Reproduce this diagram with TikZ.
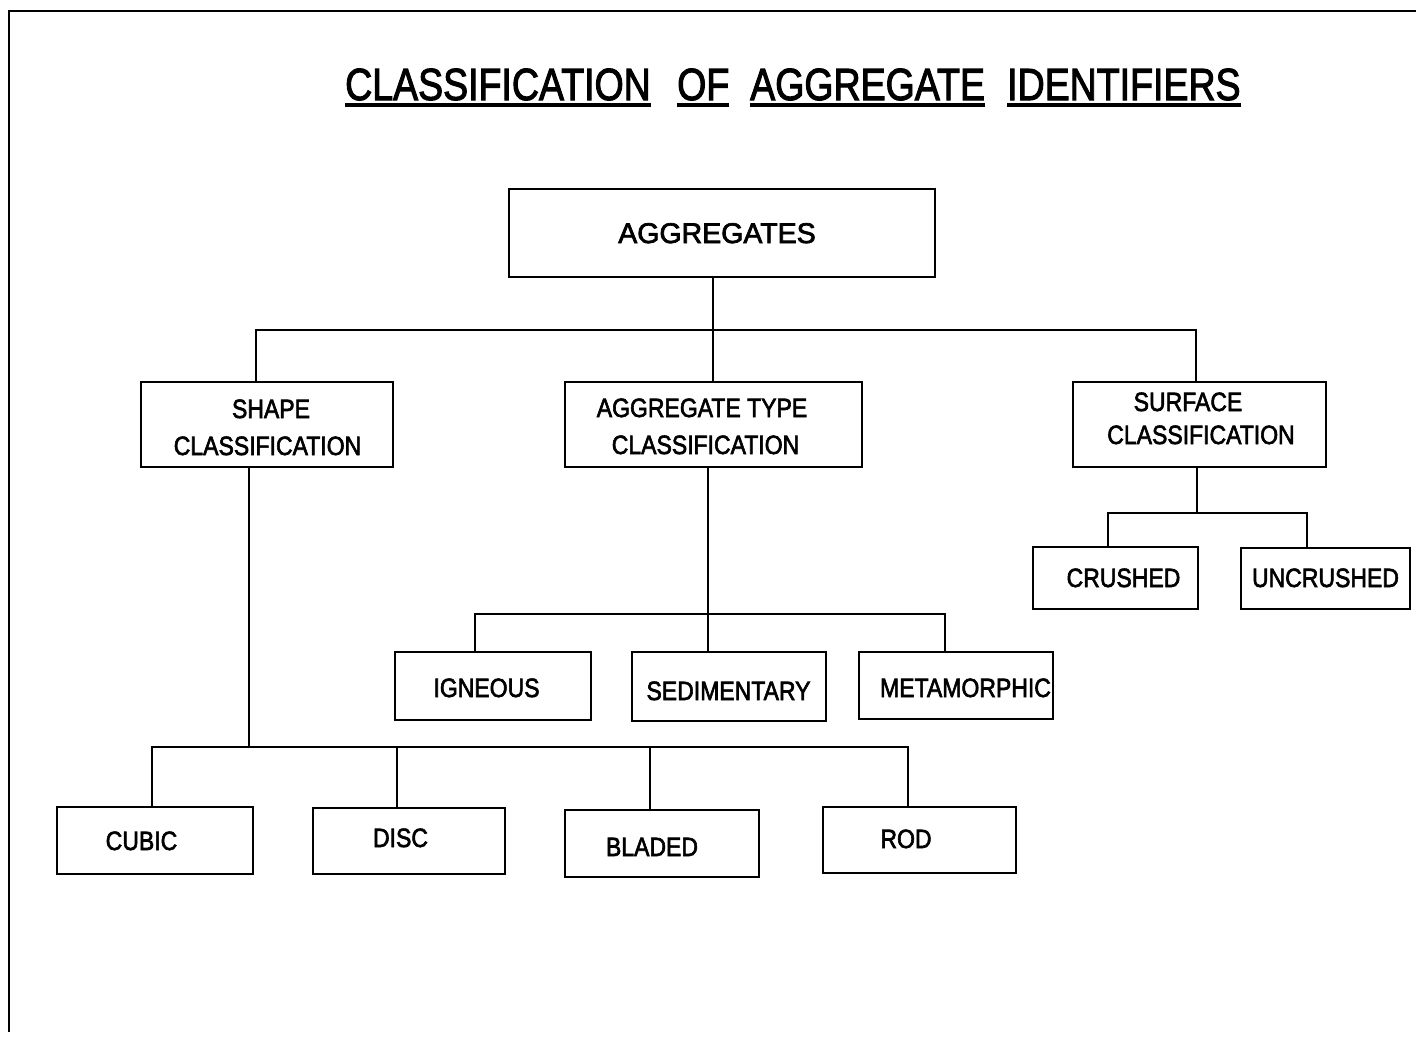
\documentclass[tikz,border=0pt]{standalone}
\usepackage{fontspec}
\setmainfont{Liberation Sans}
% a little heavier than the regular cut, like typewriter-style lettering
\newfontfamily\chartfont{Liberation Sans}[FakeBold=2.5]
\usepackage{graphicx}
% slightly tall lettering, as on the typed chart
\newcommand\tallbox[1]{\scalebox{1}[1.15]{#1}}
\newcommand\talltitle[1]{\scalebox{1}[1.2]{#1}}
\begin{document}
\begin{tikzpicture}[x=1pt,y=-1pt,
  box/.style={draw, line width=2.6pt, inner sep=0pt, outer sep=0pt, anchor=north west},
  lbl/.style={inner sep=0pt, anchor=base, font=\chartfont\fontsize{23}{23}\selectfont},
  biglbl/.style={inner sep=0pt, anchor=base, font=\chartfont\fontsize{28.5}{28.5}\selectfont},
  word/.style={inner sep=0pt, anchor=base west, font=\chartfont\fontsize{37.5}{37.5}\selectfont},
  link/.style={line width=2pt},
  frame/.style={line width=2.6pt},
  uline/.style={line width=3.2pt}]
\useasboundingbox (0,0) rectangle (1416,1037);

% page frame (top and left edges)
\coordinate (fTR) at (1416,11);
\coordinate (fTL) at (9,11);
\coordinate (fBL) at (9,1032);
\draw[frame] (fTR) -- (fTL) -- (fBL);

% title, each word underlined
\node[word] (w1) at (345,100) {\talltitle{CLASSIFICATION}};
\node[word] (w2) at (677,100) {\talltitle{OF}};
\node[word] (w3) at (750,100) {\talltitle{AGGREGATE}};
\node[word] (w4) at (1007,100) {\talltitle{IDENTIFIERS}};
\foreach \w in {w1,w2,w3,w4}
  \draw[uline] ([yshift=-5pt]\w.base west) -- ([yshift=-5pt]\w.base east);

% boxes
\node[box, minimum width=426, minimum height=88] (agg)   at (509,189) {};
\node[box, minimum width=252, minimum height=85] (shape) at (141,382) {};
\node[box, minimum width=297, minimum height=85] (type)  at (565,382) {};
\node[box, minimum width=253, minimum height=85] (surf)  at (1073,382) {};
\node[box, minimum width=165, minimum height=62] (crush) at (1033,547) {};
\node[box, minimum width=169, minimum height=61] (uncr)  at (1241,548) {};
\node[box, minimum width=196, minimum height=68] (ign)   at (395,652) {};
\node[box, minimum width=194, minimum height=69] (sed)   at (632,652) {};
\node[box, minimum width=194, minimum height=67] (meta)  at (859,652) {};
\node[box, minimum width=196, minimum height=67] (cubic) at (57,807) {};
\node[box, minimum width=192, minimum height=66] (disc)  at (313,808) {};
\node[box, minimum width=194, minimum height=67] (blade) at (565,810) {};
\node[box, minimum width=193, minimum height=66] (rod)   at (823,807) {};

% box labels
\node[biglbl] (tagg) at (717,243) {AGGREGATES};
\node[lbl] (tshape1) at (271,418) {\tallbox{SHAPE}};
\node[lbl] (tshape2) at (267.5,455) {\tallbox{CLASSIFICATION}};
\node[lbl] (ttype1) at (702,417) {\tallbox{AGGREGATE TYPE}};
\node[lbl] (ttype2) at (705.5,454) {\tallbox{CLASSIFICATION}};
\node[lbl] (tsurf1) at (1188,411) {\tallbox{SURFACE}};
\node[lbl] (tsurf2) at (1201,444) {\tallbox{CLASSIFICATION}};
\node[lbl] (tcrush) at (1123.5,587) {\tallbox{CRUSHED}};
\node[lbl] (tuncr) at (1325.5,587) {\tallbox{UNCRUSHED}};
\node[lbl] (tign) at (486.5,697) {\tallbox{IGNEOUS}};
\node[lbl] (tsed) at (728.5,700) {\tallbox{SEDIMENTARY}};
\node[lbl] (tmeta) at (965.5,697) {\tallbox{METAMORPHIC}};
\node[lbl] (tcubic) at (141.5,850) {\tallbox{CUBIC}};
\node[lbl] (tdisc) at (400.5,847) {\tallbox{DISC}};
\node[lbl] (tblade) at (652,856) {\tallbox{BLADED}};
\node[lbl] (trod) at (906,848) {\tallbox{ROD}};

% first level bus
\coordinate (aM) at (713,330);
\coordinate (aL) at (256,330);
\coordinate (aR) at (1196,330);
\draw[link] (agg.south -| aM) -- (aM);
\draw[link] (shape.north -| aL) -- (aL) -- (aR) -- (surf.north -| aR);
\draw[link] (aM) -- (type.north -| aM);

% shape bus
\coordinate (s0) at (249,747);
\coordinate (sL) at (152,747);
\coordinate (sD) at (397,747);
\coordinate (sB) at (650,747);
\coordinate (sR) at (908,747);
\draw[link] (shape.south -| s0) -- (s0);
\draw[link] (cubic.north -| sL) -- (sL) -- (sR) -- (rod.north -| sR);
\draw[link] (sD) -- (disc.north -| sD);
\draw[link] (sB) -- (blade.north -| sB);

% aggregate type bus
\coordinate (t0) at (708,614);
\coordinate (tL) at (475,614);
\coordinate (tR) at (945,614);
\draw[link] (type.south -| t0) -- (sed.north -| t0);
\draw[link] (ign.north -| tL) -- (tL) -- (tR) -- (meta.north -| tR);

% surface bus
\coordinate (u0) at (1197,513);
\coordinate (uL) at (1108,513);
\coordinate (uR) at (1307,513);
\draw[link] (surf.south -| u0) -- (u0);
\draw[link] (crush.north -| uL) -- (uL) -- (uR) -- (uncr.north -| uR);
\end{tikzpicture}
\end{document}
